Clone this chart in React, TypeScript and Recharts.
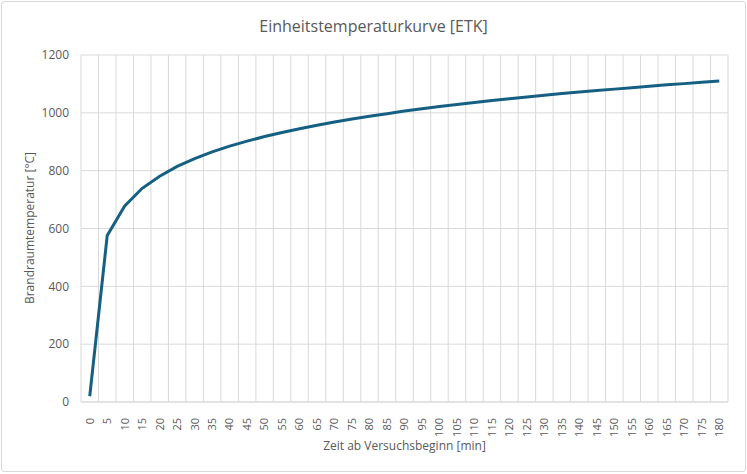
import { LineChart, Line, XAxis, YAxis, CartesianGrid } from 'recharts';

// Zeit [min] und Temperatur [°C]
const minutes = [
  0, 5, 10, 15, 20, 25, 30, 35, 40, 45, 50, 55, 60, 65, 70, 75, 80, 85, 90,
  95, 100, 105, 110, 115, 120, 125, 130, 135, 140, 145, 150, 155, 160, 165,
  170, 175, 180,
];
const temperatures = [
  20, 576, 678, 739, 781, 815, 842, 865, 885, 902, 918, 932, 945, 957, 968,
  979, 988, 997, 1006, 1014, 1022, 1029, 1036, 1043, 1049, 1055, 1061, 1067,
  1072, 1077, 1082, 1087, 1092, 1097, 1101, 1106, 1110,
];
const yTicks = [0, 200, 400, 600, 800, 1000, 1200];
// Gitterlinien liegen zwischen den Kategorien
const gridTicks = [...minutes.map((m) => m - 2.5), 182.5];

const data = minutes.map((t, i) => ({ t, temp: temperatures[i] }));

const FONT = '"Open Sans", sans-serif';
const GRAY = '#595959';
const GRID = '#d9d9d9';

function MinuteTick({ x, y, payload }: any) {
  return (
    <text
      x={x}
      y={y + 8}
      dy="0.35em"
      transform={`rotate(-90, ${x}, ${y + 8})`}
      textAnchor="end"
      fill={GRAY}
      fontSize={11}
      fontFamily={FONT}
    >
      {payload.value}
    </text>
  );
}

export default function App() {
  return (
    <div
      style={{
        position: 'absolute',
        left: 0,
        top: 0,
        width: 747,
        height: 474,
        background: '#fff',
        fontFamily: FONT,
      }}
    >
      <div
        style={{
          position: 'absolute',
          left: 1,
          top: 1,
          width: 743,
          height: 469,
          border: '1px solid #d9d9d9',
          borderRadius: 3,
        }}
      />
      <div
        style={{
          position: 'absolute',
          top: 15,
          width: 747,
          textAlign: 'center',
          fontSize: 16,
          color: GRAY,
        }}
      >
        Einheitstemperaturkurve [ETK]
      </div>
      <div
        style={{
          position: 'absolute',
          left: 81,
          width: 647,
          top: 437,
          textAlign: 'center',
          fontSize: 12,
          color: GRAY,
        }}
      >
        Zeit ab Versuchsbeginn [min]
      </div>
      <div
        style={{
          position: 'absolute',
          left: 29,
          top: 228,
          transform: 'translate(-50%, -50%) rotate(-90deg)',
          whiteSpace: 'nowrap',
          fontSize: 12,
          color: GRAY,
        }}
      >
        Brandraumtemperatur [°C]
      </div>
      <LineChart
        width={747}
        height={474}
        data={data}
        margin={{ top: 55, right: 19, bottom: 0, left: 0 }}
        style={{ position: 'absolute', left: 0, top: 0 }}
      >
        <CartesianGrid xAxisId="grid" stroke={GRID} strokeWidth={1} />
        <XAxis
          dataKey="t"
          type="number"
          domain={[-2.5, 182.5]}
          ticks={minutes}
          interval={0}
          height={72}
          tickLine={false}
          axisLine={{ stroke: GRID }}
          tick={<MinuteTick />}
        />
        <XAxis
          xAxisId="grid"
          dataKey="t"
          type="number"
          domain={[-2.5, 182.5]}
          ticks={gridTicks}
          interval={0}
          hide
        />
        <YAxis
          width={81}
          domain={[0, 1200]}
          ticks={yTicks}
          interval={0}
          axisLine={false}
          tickLine={false}
          tickMargin={6}
          tick={{ fill: GRAY, fontSize: 12, fontFamily: FONT }}
        />
        <Line
          dataKey="temp"
          stroke="#156082"
          strokeWidth={3}
          dot={false}
          isAnimationActive={false}
        />
      </LineChart>
    </div>
  );
}
